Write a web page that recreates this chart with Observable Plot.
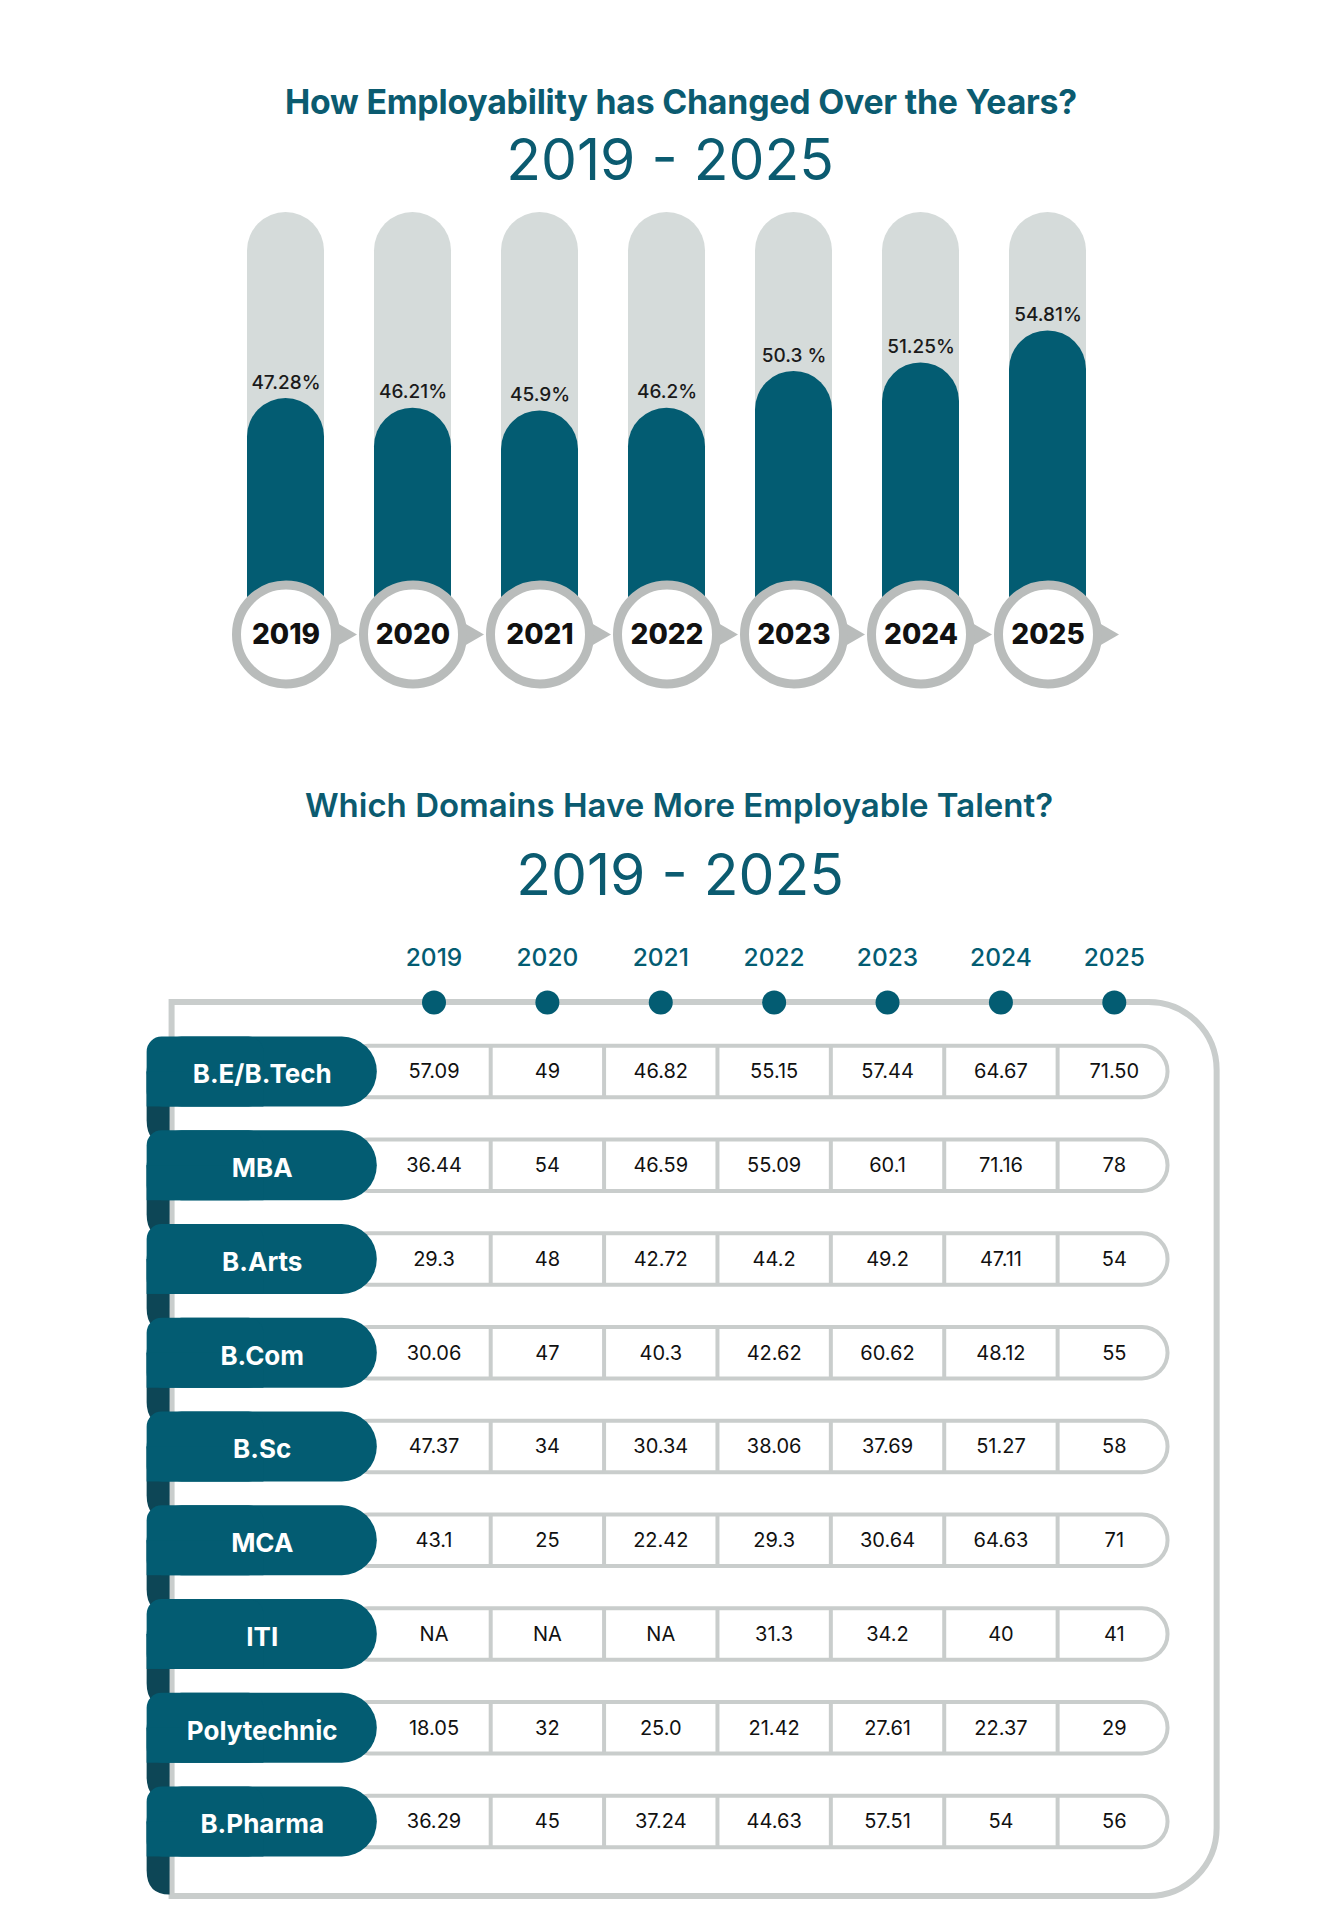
<!DOCTYPE html>
<html><head><meta charset="utf-8">
<script src="https://cdn.jsdelivr.net/npm/d3@7"></script>
<script src="https://cdn.jsdelivr.net/npm/@observablehq/plot@0.6"></script>
<style>
body{margin:0;background:#fff;}
#page{position:relative;width:1341px;height:1925px;overflow:hidden;background:#fff;}
.t{position:absolute;transform:translate(-50%,-50%);white-space:nowrap;line-height:1;color:#0b5b70;z-index:2;}
.chart{position:absolute;left:0;}
</style></head>
<body><div id="page">
<div class="t" style="left:681px;top:101px;font:700 33.8px Inter, sans-serif;letter-spacing:-0.2px;">How Employability has Changed Over the Years?</div>
<div class="t" style="left:670px;top:159px;font:400 57px Inter, sans-serif;">2019 - 2025</div>
<div class="t" style="left:679px;top:805px;font:600 33px Inter, sans-serif;">Which Domains Have More Employable Talent?</div>
<div class="t" style="left:680px;top:874px;font:400 57px Inter, sans-serif;">2019 - 2025</div>
<div class="chart" id="top" style="top:190px"></div>
<div class="chart" id="table" style="top:920px"></div>
</div>
<script>
// ---------- data ----------
const years = ["2019","2020","2021","2022","2023","2024","2025"];
const overall = [47.28, 46.21, 45.9, 46.2, 50.3, 51.25, 54.81];
const overallLabels = ["47.28%","46.21%","45.9%","46.2%","50.3 %","51.25%","54.81%"];
const trackMax = 68;
const base = 21;

const domains = ["B.E/B.Tech","MBA","B.Arts","B.Com","B.Sc","MCA","ITI","Polytechnic","B.Pharma"];
const beTech   = ["57.09","49","46.82","55.15","57.44","64.67","71.50"];
const mba      = ["36.44","54","46.59","55.09","60.1","71.16","78"];
const bArts    = ["29.3","48","42.72","44.2","49.2","47.11","54"];
const bCom     = ["30.06","47","40.3","42.62","60.62","48.12","55"];
const bSc      = ["47.37","34","30.34","38.06","37.69","51.27","58"];
const mca      = ["43.1","25","22.42","29.3","30.64","64.63","71"];
const iti      = ["NA","NA","NA","31.3","34.2","40","41"];
const poly     = ["18.05","32","25.0","21.42","27.61","22.37","29"];
const bPharma  = ["36.29","45","37.24","44.63","57.51","54","56"];

const TEAL = "#035c72", GRAY_TRACK = "#d5dbda", RING = "#b9bcbb", LINE = "#c9cdcc", DARK = "#0d4656";

// ---------- top chart ----------
const topData = years.map((y, i) => ({year: y, value: overall[i], label: overallLabels[i]}));
const topChart = Plot.plot({
  width: 1341, height: 530,
  marginTop: 22, marginBottom: 86, marginLeft: 194.5, marginRight: 202,
  x: {type: "band", domain: years, padding: 0.397, axis: null},
  y: {domain: [base, trackMax], axis: null},
  style: {background: "none", overflow: "visible"},
  marks: [
    Plot.barY(topData, {x: "year", y1: base, y2: trackMax, fill: GRAY_TRACK, rx: 38.5}),
    Plot.barY(topData, {x: "year", y1: base, y2: "value", fill: TEAL, rx: 38.5}),
    Plot.text(topData, {x: "year", y: "value", text: "label", dy: -16, fontSize: 19, fontWeight: 500, fill: "#1a1a1a", fontFamily: "Inter"}),
    Plot.dot(topData, {x: "year", y: base, symbol: "triangle", r: 11.9, rotate: 90, dx: 52.5, fill: RING}),
    Plot.dot(topData, {x: "year", y: base, r: 49.5, fill: "#fff", stroke: RING, strokeWidth: 9}),
    Plot.text(topData, {x: "year", y: base, text: "year", dy: 1, fontSize: 28, fontWeight: 800, fill: "#111", fontFamily: "Inter"})
  ]
});
document.getElementById("top").appendChild(topChart);

// ---------- table chart ----------
const rowVals = [beTech, mba, bArts, bCom, bSc, mca, iti, poly, bPharma];
const rows = domains.map((d, i) => ({name: d, i}));
const cells = rows.flatMap(r => years.map((y, j) => ({row: r.i, col: j, text: rowVals[r.i][j]})));
const seps = rows.flatMap(r => years.slice(1).map((y, j) => ({row: r.i, col: j + 0.5})));
const cols = years.map((y, j) => ({year: y, col: j}));

const TAB_H = 0.373, CELL_H = 0.2736;
const TAB_L = -2.53, TAB_R = -0.5;

function frameMark(index, scales) {
  const x = scales.x, y = scales.y;
  const L = x(-2.31), R = x(6.907), T = y(-0.741), B = y(8.795), r = 68;
  const p = d3.path();
  p.moveTo(L, B); p.lineTo(L, T); p.lineTo(R - r, T); p.arcTo(R, T, R, T + r, r);
  p.lineTo(R, B - r); p.arcTo(R, B, R - r, B, r); p.closePath();
  return d3.create("svg:path").attr("d", p.toString()).attr("fill", "none")
    .attr("stroke", LINE).attr("stroke-width", 6).node();
}
function foldMark(index, scales) {
  const x = scales.x, y = scales.y;
  const g = d3.create("svg:g");
  rows.forEach(r => {
    const L = x(TAB_L), R = x(-2.31) - 2, top = y(r.i), bottom = y(r.i + TAB_H) + 38;
    const p = d3.path();
    p.moveTo(L, top); p.lineTo(R, top); p.lineTo(R, bottom);
    p.quadraticCurveTo(L, bottom, L, bottom - 24); p.closePath();
    g.append("path").attr("d", p.toString()).attr("fill", DARK);
  });
  return g.node();
}

const tableChart = Plot.plot({
  width: 1341, height: 1005,
  x: {domain: [0, 6], range: [433.5, 1113.8], axis: null},
  y: {domain: [0, 8], range: [151.5, 901.5], axis: null},
  style: {background: "none", overflow: "visible"},
  marks: [
    frameMark,
    Plot.text(cols, {x: "col", y: -1.21, text: "year", fill: TEAL, fontSize: 24.5, fontWeight: 500, fontFamily: "Inter"}),
    Plot.dot(cols, {x: "col", y: -0.741, r: 12, fill: TEAL}),
    Plot.rect(rows, {x1: -0.8, x2: 6.474, y1: d => d.i - CELL_H, y2: d => d.i + CELL_H, rx: 25.6, fill: "#fff", stroke: LINE, strokeWidth: 4}),
    Plot.ruleX(seps, {x: "col", y1: d => d.row - CELL_H, y2: d => d.row + CELL_H, stroke: LINE, strokeWidth: 4}),
    Plot.text(cells, {x: "col", y: "row", text: "text", fontSize: 20, fontWeight: 400, fill: "#111", fontFamily: "Inter"}),
    foldMark,
    Plot.rect(rows, {x1: TAB_L, x2: TAB_R, y1: d => d.i - TAB_H, y2: d => d.i + TAB_H, rx: 35, fill: TEAL}),
    Plot.rect(rows, {x1: TAB_L, x2: -1.5, y1: d => d.i - TAB_H, y2: d => d.i + TAB_H, rx: 15, fill: TEAL}),
    Plot.rect(rows, {x1: TAB_L, x2: -1.5, y1: d => d.i, y2: d => d.i + TAB_H, fill: TEAL}),
    Plot.text(rows, {x: -1.515, y: "i", dy: 3, text: "name", fill: "#fff", fontSize: 26, fontWeight: 700, fontFamily: "Inter"})
  ]
});
document.getElementById("table").appendChild(tableChart);
</script>
</body></html>
